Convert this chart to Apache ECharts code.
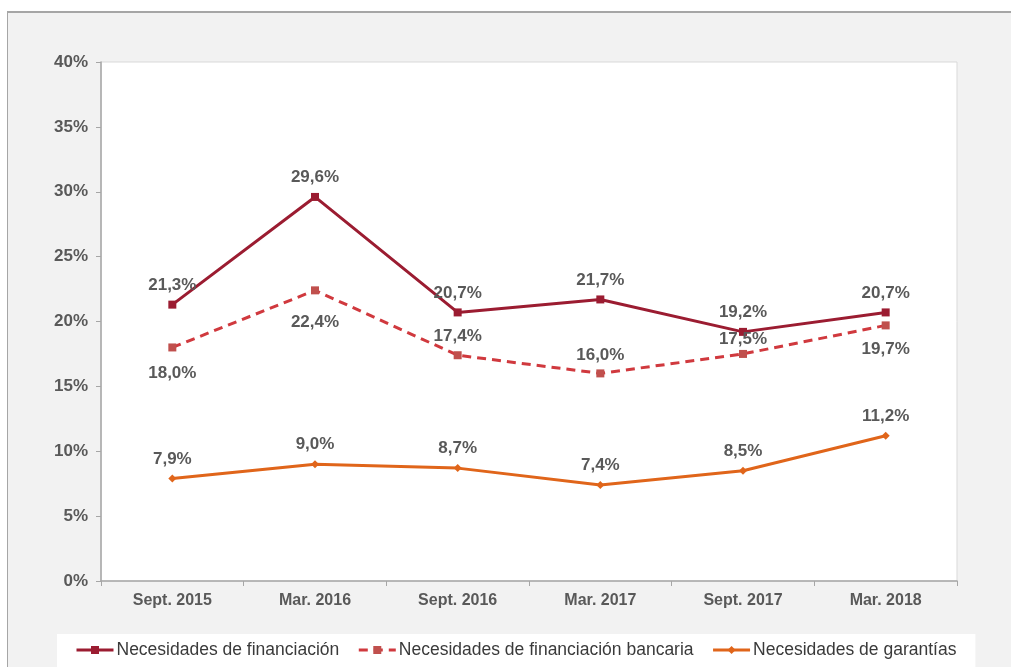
<!DOCTYPE html>
<html>
<head>
<meta charset="utf-8">
<script src="https://cdn.jsdelivr.net/npm/echarts@6/dist/echarts.min.js"></script>
<style>
    html, body { margin: 0; padding: 0; background: #fff; }
    #frame {
        position: absolute; left: 7px; top: 11px; width: 1004px; height: 656px;
        background: #f2f2f2; border-left: 1px solid #a6a6a6; border-top: 2px solid #a6a6a6;
    }
    #chart { position: absolute; left: 0; top: 0; width: 1011px; height: 667px; }
</style>
</head>
<body>
<div id="frame"></div>
<div id="chart"></div>
<script>
    var categories = ['Sept. 2015', 'Mar. 2016', 'Sept. 2016', 'Mar. 2017', 'Sept. 2017', 'Mar. 2018'];
    var financiacion = [21.3, 29.6, 20.7, 21.7, 19.2, 20.7];
    var bancaria = [18.0, 22.4, 17.4, 16.0, 17.5, 19.7];
    var garantias = [7.9, 9.0, 8.7, 7.4, 8.5, 11.2];

    // where each value label sits relative to its point
    var bancariaLabelPos = ['bottom', 'bottom', 'top', 'top', 'top', 'bottom'];
    var bancariaLabelDist = [13, 19, 6, 6, 2, 11];

    var labelStyle = {
        show: true,
        position: 'top',
        distance: 7,
        color: '#595959',
        fontFamily: 'Liberation Sans, Arial, sans-serif',
        fontWeight: 'bold',
        fontSize: 17,
        formatter: function (p) {
            return p.value.toFixed(1).replace('.', ',') + '%';
        }
    };

    var chart = echarts.init(document.getElementById('chart'));

    chart.setOption({
        animation: false,
        textStyle: { fontFamily: 'Liberation Sans, Arial, sans-serif' },
        grid: {
            left: 101, right: 54, top: 62, bottom: 86,
            show: true, backgroundColor: '#ffffff', borderColor: '#d9d9d9', borderWidth: 1
        },
        legend: {
            bottom: 0,
            left: 57,
            padding: [7, 19, 8, 18],
            backgroundColor: '#ffffff',
            itemWidth: 37,
            itemHeight: 10,
            itemGap: 18,
            lineStyle: { width: 3 },
            textStyle: { fontSize: 17.5, color: '#3a3a3a', padding: [0, 0, 0, -2] },
            data: ['Necesidades de financiación', 'Necesidades de financiación bancaria', 'Necesidades de garantías']
        },
        xAxis: {
            type: 'category',
            data: categories,
            axisLine: { lineStyle: { color: '#a6a6a6', width: 1.5 } },
            axisTick: { show: true, length: 5, lineStyle: { color: '#a6a6a6' } },
            axisLabel: { color: '#595959', fontWeight: 'bold', fontSize: 16, margin: 12 }
        },
        yAxis: {
            type: 'value',
            min: 0, max: 40, interval: 5,
            splitLine: { show: false },
            axisLine: { show: true, lineStyle: { color: '#a6a6a6', width: 1.5 } },
            axisTick: { show: true, length: 5, lineStyle: { color: '#a6a6a6' } },
            axisLabel: { color: '#595959', fontWeight: 'bold', fontSize: 17, margin: 13, formatter: '{value}%' }
        },
        series: [{
            name: 'Necesidades de financiación',
            type: 'line',
            data: financiacion,
            symbol: 'rect',
            symbolSize: 8,
            lineStyle: { color: '#9b1c31', width: 3 },
            itemStyle: { color: '#9b1c31' },
            label: labelStyle
        }, {
            name: 'Necesidades de financiación bancaria',
            type: 'line',
            data: bancaria.map(function (v, i) {
                return { value: v, label: { position: bancariaLabelPos[i], distance: bancariaLabelDist[i] } };
            }),
            symbol: 'rect',
            symbolSize: 8,
            lineStyle: { color: '#d0393e', width: 3, type: [9, 6] },
            itemStyle: { color: '#c0504d' },
            label: labelStyle
        }, {
            name: 'Necesidades de garantías',
            type: 'line',
            data: garantias,
            symbol: 'diamond',
            symbolSize: 8,
            lineStyle: { color: '#e0651a', width: 3 },
            itemStyle: { color: '#e0651a' },
            label: labelStyle
        }]
    });
</script>
</body>
</html>
